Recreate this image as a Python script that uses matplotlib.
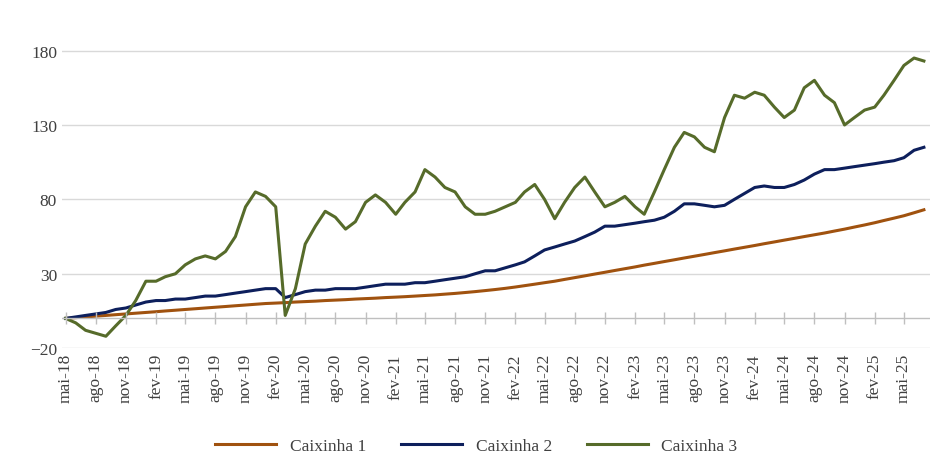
import pandas as pd
import matplotlib.pyplot as plt

# Dados mensais (mai-18 a jul-25)
meses = pd.date_range('2018-05-01', '2025-07-01', freq='MS')

caixinha1 = [0, 0.5, 1, 1.5, 2, 2.5, 3, 3.5,
             4, 4.5, 5, 5.5, 6, 6.5, 7, 7.5, 8, 8.5, 9, 9.5,
             10, 10.3, 10.6, 11, 11.3, 11.6, 12, 12.3, 12.6, 13, 13.3, 13.6,
             14, 14.3, 14.6, 15, 15.4, 15.8, 16.3, 16.8, 17.4, 18, 18.7, 19.4,
             20.2, 21.1, 22, 23, 24, 25, 26.2, 27.4, 28.6, 29.8, 31, 32.2,
             33.4, 34.6, 35.8, 37, 38.2, 39.4, 40.6, 41.8, 43, 44.2, 45.4, 46.6,
             47.8, 49, 50.2, 51.4, 52.6, 53.8, 55, 56.2, 57.4, 58.7, 60, 61.4,
             62.8, 64.3, 65.8, 67.4, 69, 71, 73]
caixinha2 = [0, 1, 2, 3, 4, 6, 7, 9,
             11, 12, 12, 13, 13, 14, 15, 15, 16, 17, 18, 19,
             20, 20, 14, 16, 18, 19, 19, 20, 20, 20, 21, 22,
             23, 23, 23, 24, 24, 25, 26, 27, 28, 30, 32, 32,
             34, 36, 38, 42, 46, 48, 50, 52, 55, 58, 62, 62,
             63, 64, 65, 66, 68, 72, 77, 77, 76, 75, 76, 80,
             84, 88, 89, 88, 88, 90, 93, 97, 100, 100, 101, 102,
             103, 104, 105, 106, 108, 113, 115]
caixinha3 = [0, -3, -8, -10, -12, -5, 2, 12,
             25, 25, 28, 30, 36, 40, 42, 40, 45, 55, 75, 85,
             82, 75, 2, 20, 50, 62, 72, 68, 60, 65, 78, 83,
             78, 70, 78, 85, 100, 95, 88, 85, 75, 70, 70, 72,
             75, 78, 85, 90, 80, 67, 78, 88, 95, 85, 75, 78,
             82, 75, 70, 85, 100, 115, 125, 122, 115, 112, 135, 150,
             148, 152, 150, 142, 135, 140, 155, 160, 150, 145, 130, 135,
             140, 142, 150, 160, 170, 175, 173]

nomes_meses = ['jan', 'fev', 'mar', 'abr', 'mai', 'jun', 'jul', 'ago', 'set', 'out', 'nov', 'dez']

plt.rcParams['font.family'] = 'Liberation Serif'
fig = plt.figure(figsize=(9.53, 4.77), dpi=100)
ax = fig.add_axes([0.065, 0.268, 0.911, 0.68])

ax.plot(meses, caixinha1, color='#A0520F', lw=2.2, label='Caixinha 1')
ax.plot(meses, caixinha2, color='#0D1F5C', lw=2.2, label='Caixinha 2')
ax.plot(meses, caixinha3, color='#566B2A', lw=2.2, label='Caixinha 3')

ax.set_ylim(-20, 198)
ax.set_yticks([-20, 30, 80, 130, 180])
ax.set_xlim(pd.Timestamp('2018-04-20'), pd.Timestamp('2025-07-20'))
ticks = pd.date_range('2018-05-01', '2025-05-01', freq='3MS')
ax.set_xticks(ticks)
ax.set_xticklabels([f'{nomes_meses[d.month - 1]}-{d.strftime("%y")}' for d in ticks], rotation=90)
ax.tick_params(axis='both', length=0, labelsize=12.5, colors='#404040')
ax.grid(axis='y', color='#D9D9D9', lw=1)
ax.axhline(0, color='#BFBFBF', lw=1)
ax.plot(ticks, [0] * len(ticks), ls='none', marker='|', ms=8, color='#BFBFBF')
for s in ax.spines.values():
    s.set_visible(False)

fig.legend(loc='center', bbox_to_anchor=(0.5, 0.063), ncol=3, frameon=False,
           fontsize=12.5, handlelength=3.5, labelcolor='#404040', columnspacing=2)

fig.savefig('out.png', dpi=100)
